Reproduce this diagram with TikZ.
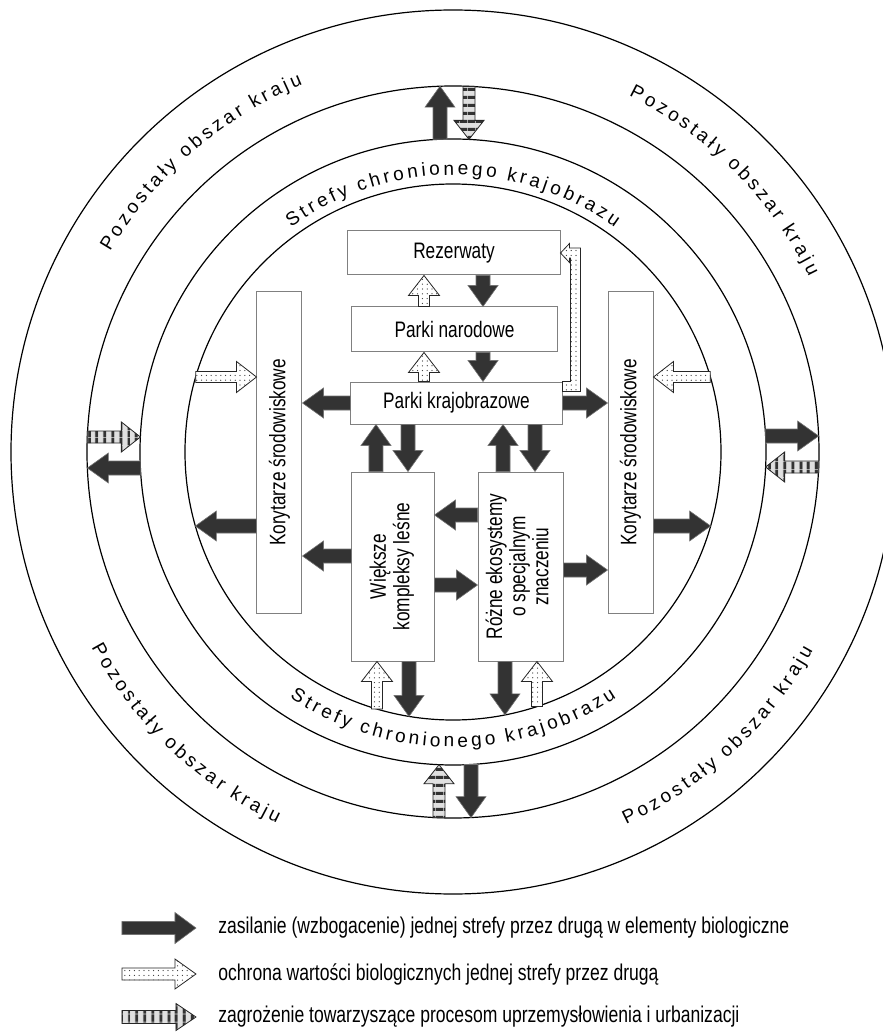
\documentclass[tikz,border=0pt]{standalone}
\usepackage{fontspec}
\setmainfont[FakeStretch=0.77]{Liberation Sans}
\newfontfamily\ringfont[WordSpace=0.65]{Liberation Sans}
\usepackage{graphicx}
\usepackage{tikz}
\usetikzlibrary{calc,decorations.text,patterns.meta}

% block arrow: style, half shaft, half head, head length, from, to
\newcommand\blockarrow[6]{%
  \coordinate (ba-s) at (#5);
  \coordinate (ba-t) at (#6);
  \coordinate (ba-h) at ($(ba-t)!#4!(ba-s)$);
  \path[#1] ($(ba-s)!#2!90:(ba-t)$) -- ($(ba-h)!#2!90:(ba-t)$)
    -- ($(ba-h)!#3!90:(ba-t)$) -- (ba-t) -- ($(ba-h)!#3!-90:(ba-t)$)
    -- ($(ba-h)!#2!-90:(ba-t)$) -- ($(ba-s)!#2!-90:(ba-t)$) -- cycle;}
\newcommand\feedarrow[2]{\blockarrow{feed}{3.5pt}{7.5pt}{10.5pt}{#1}{#2}}
\newcommand\guardarrow[2]{\blockarrow{guard}{2.75pt}{7.75pt}{10pt}{#1}{#2}}
\newcommand\threatarrow[3]{\blockarrow{#1}{3pt}{7.5pt}{9.5pt}{#2}{#3}}

\tikzset{
  ring/.style={draw=black, line width=0.6pt},
  zone/.style={draw=black!50, line width=0.5pt, fill=white, inner sep=0pt, font=\fontsize{11.2}{11.6}\selectfont},
  feed/.style={fill=black!80, draw=black!55, line width=0.3pt},
  guard/.style={draw=black!85, line width=0.4pt, preaction={fill=white}, pattern={Dots[distance=2.4pt,radius=0.32pt]}, pattern color=black!80},
  threatx/.style={draw=black!85, line width=0.4pt, preaction={fill=black!12}, pattern={Lines[angle=90,distance=4pt,line width=1.7pt]}, pattern color=black!80},
  threaty/.style={threatx, pattern={Lines[angle=0,distance=4pt,line width=1.7pt]}},
  legend text/.style={anchor=west, inner sep=0pt, font=\fontsize{11.4}{13}\selectfont},
  ringtext/.style={decorate, decoration={text along path, text align=center, text={|\ringfont\fontsize{9.5}{11}\selectfont|#1}}}
}

\begin{document}
\begin{tikzpicture}[x=0.5pt, y=0.5pt]
  \useasboundingbox (-453,-581) rectangle (430,452);

  % zones
  \foreach \r in {268,313,366,442}
    \draw[ring] (0,0) circle[radius=\r];

  % zone names
  \path[ringtext={S t r e f y~~ c h r o n i o n e g o~~ k r a j o b r a z u}] (150:277) arc[start angle=150, end angle=30, radius=277];
  \path[ringtext={S t r e f y~~ c h r o n i o n e g o~~ k r a j o b r a z u}] (210:295) arc[start angle=210, end angle=330, radius=295];
  \path[ringtext={P o z o s t a ł y~~ o b s z a r~~ k r a j u}] (171:397) arc[start angle=171, end angle=91, radius=397];
  \path[ringtext={P o z o s t a ł y~~ o b s z a r~~ k r a j u}] (85:397) arc[start angle=85, end angle=5, radius=397];
  \path[ringtext={P o z o s t a ł y~~ o b s z a r~~ k r a j u}] (186.5:411) arc[start angle=186.5, end angle=266.5, radius=411];
  \path[ringtext={P o z o s t a ł y~~ o b s z a r~~ k r a j u}] (273:411) arc[start angle=273, end angle=353, radius=411];

  % protected areas
  \node[zone, minimum width=106pt, minimum height=22pt] (rez) at (1,199) {Rezerwaty};
  \node[zone, minimum width=102.5pt, minimum height=22.5pt] (narod) at (1.5,122.5) {Parki narodowe};
  \node[zone, minimum width=105.5pt, minimum height=21pt] (krajob) at (3.5,49) {Parki krajobrazowe};
  \node[zone, minimum width=22.5pt, minimum height=160.5pt] (korl) at (-173.5,-0.5) {\rotatebox{90}{Korytarze środowiskowe}};
  \node[zone, minimum width=22.5pt, minimum height=160.5pt] (korr) at (177.5,-0.5) {\rotatebox{90}{Korytarze środowiskowe}};
  \node[zone, minimum width=41pt, minimum height=94.5pt] (lesne) at (-60,-114.5)
    {\rotatebox{90}{\begin{tabular}{@{}c@{}}Większe\\kompleksy leśne\end{tabular}}};
  \node[zone, minimum width=42.5pt, minimum height=94.5pt] (ekos) at (67.5,-114.5)
    {\rotatebox{90}{\begin{tabular}{@{}c@{}}Różne ekosystemy\\o specjalnym\\znaczeniu\end{tabular}}};

  % points on the zone borders
  \coordinate (in-nw) at (-257.3,75);
  \coordinate (in-ne) at (257.3,75);
  \coordinate (in-sw) at (-257.6,-74);
  \coordinate (in-se) at (257.6,-74);
  \coordinate (in-s1) at (-76,-257);
  \coordinate (in-s2) at (-44,-264.4);
  \coordinate (in-s3) at (52,-262.9);
  \coordinate (in-s4) at (84,-254.5);

  % between the central areas
  \feedarrow{rez.south -| 30,0}{narod.north -| 30,0}
  \guardarrow{narod.north -| -29,0}{rez.south -| -29,0}
  \feedarrow{narod.south -| 30,0}{krajob.north -| 30,0}
  \guardarrow{krajob.north -| -29,0}{narod.south -| -29,0}
  \path[guard] ($(krajob.north east)+(0,-10)$) -- ++(18,0) |- ($(rez.east)+(9,5)$)
    -- ++(0,4.5) -- (rez.east) -- ++(9,-9.5) -- ++(0,4.5) -- ++(1,0) |- (krajob.north east) -- cycle;
  \feedarrow{krajob.west}{korl.east |- krajob.west}
  \feedarrow{krajob.east}{korr.west |- krajob.east}
  \feedarrow{krajob.south -| -45,0}{lesne.north -| -45,0}
  \feedarrow{lesne.north -| -77,0}{krajob.south -| -77,0}
  \feedarrow{ekos.north -| 50,0}{krajob.south -| 50,0}
  \feedarrow{krajob.south -| 82,0}{ekos.north -| 82,0}
  \feedarrow{ekos.west |- 0,-63}{lesne.east |- 0,-63}
  \feedarrow{lesne.east |- 0,-133}{ekos.west |- 0,-133}
  \feedarrow{lesne.west |- 0,-104}{korl.east |- 0,-104}
  \feedarrow{ekos.east |- 0,-118}{korr.west |- 0,-118}

  % to the inner border
  \guardarrow{in-nw}{korl.west |- in-nw}
  \guardarrow{in-ne}{korr.east |- in-ne}
  \feedarrow{korl.west |- in-sw}{in-sw}
  \feedarrow{korr.east |- in-se}{in-se}
  \guardarrow{in-s1}{lesne.south -| in-s1}
  \feedarrow{lesne.south -| in-s2}{in-s2}
  \feedarrow{ekos.south -| in-s3}{in-s3}
  \guardarrow{in-s4}{ekos.south -| in-s4}

  % across the outer ring
  \threatarrow{threatx}{-365.7,15}{-312.6,15}
  \feedarrow{-312.6,-16}{-365.6,-16}
  \feedarrow{312.6,16}{365.6,16}
  \threatarrow{threatx}{365.7,-15}{312.6,-15}
  \feedarrow{-13,312.7}{-13,365.8}
  \threatarrow{threaty}{16,365.6}{16,312.6}
  \threatarrow{threaty}{-14,-365.7}{-14,-312.7}
  \feedarrow{18,-312.5}{18,-365.6}

  % legend
  \node[legend text] (legfeed) at (-235,-476) {zasilanie (wzbogacenie) jednej strefy przez drugą w elementy biologiczne};
  \node[legend text] (legguard) at (-235,-522) {ochrona wartości biologicznych jednej strefy przez drugą};
  \node[legend text] (legthreat) at (-235,-565) {zagrożenie towarzyszące procesom uprzemysłowienia i urbanizacji};
  \blockarrow{feed}{3.25pt}{7.75pt}{10.5pt}{$(legfeed.west)+(-96,0)$}{$(legfeed.west)+(-22,0)$}
  \blockarrow{guard}{3pt}{7.5pt}{10.5pt}{$(legguard.west)+(-96,0)$}{$(legguard.west)+(-22,0)$}
  \blockarrow{threatx}{3.25pt}{6.75pt}{10pt}{$(legthreat.west)+(-96,0)$}{$(legthreat.west)+(-22,0)$}
\end{tikzpicture}
\end{document}
